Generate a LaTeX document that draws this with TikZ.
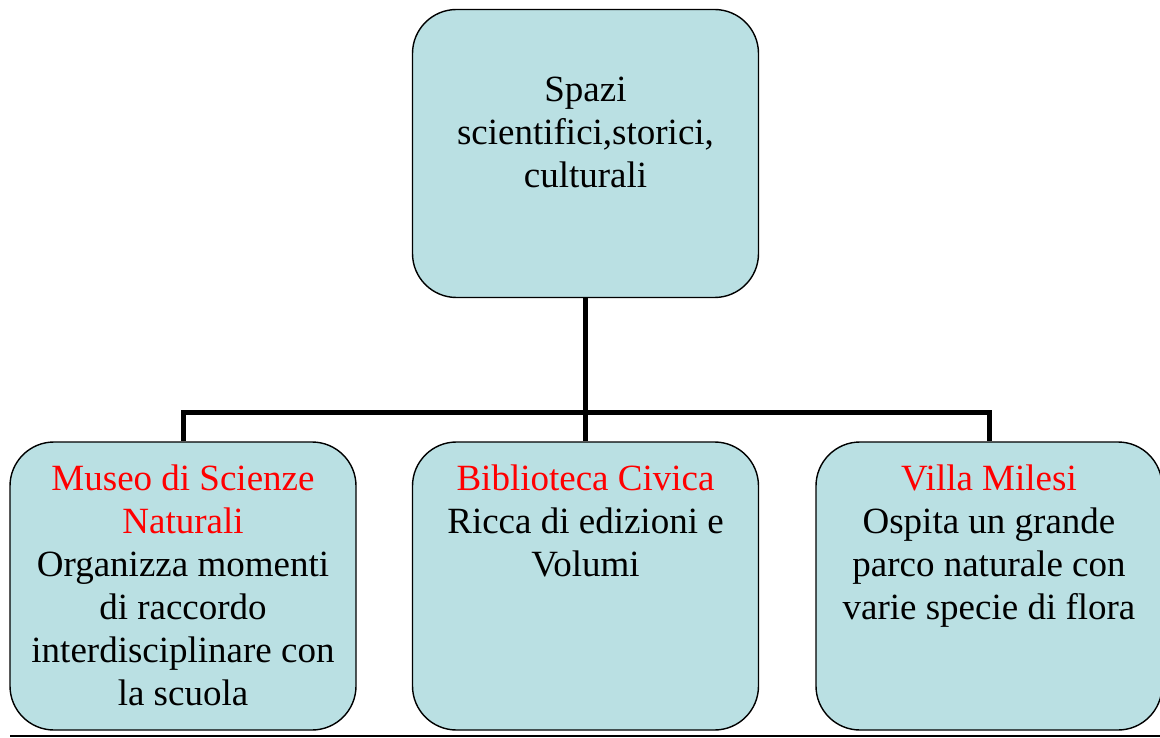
\documentclass[tikz,border=0pt]{standalone}
\usepackage{fontspec}
\setmainfont{Liberation Serif}
\usepackage{xcolor}
\usepackage{tikz}
\definecolor{spazicyan}{RGB}{186, 224, 227}
\definecolor{spazired}{RGB}{255, 0, 0}
\usetikzlibrary{positioning,calc}
% text block of a box: first baseline #1 below the top edge
\newcommand{\boxtext}[2]{\parbox[c][288pt][t]{334pt}{\centering\fontsize{37}{43}\selectfont\rule{0pt}{#1}#2}}

\begin{document}
\begin{tikzpicture}[x=1pt, y=-1pt]
    % Define styles
    \tikzstyle{place} = [rectangle, rounded corners=44pt, draw=black, line width=1.4pt,
                         fill=spazicyan, inner sep=0pt, minimum width=346pt, minimum height=288pt]
    \tikzstyle{branch} = [line width=5pt, draw=black]
    \tikzstyle{title} = [color=spazired]

    \useasboundingbox (0,0) rectangle (1160,738);

    % Nodes
    \node[place] (spazi) at (585.5,153.5) {\boxtext{92pt}{Spazi\\ scientifici,storici,\\ culturali}};
    \node[place] (museo) at (183,586) {\boxtext{48pt}{\textcolor{spazired}{Museo di Scienze\\ Naturali}\\
        Organizza momenti\\ di raccordo\\ interdisciplinare con\\ la scuola}};
    \node[place] (biblioteca) at (585.5,586) {\boxtext{48pt}{\textcolor{spazired}{Biblioteca Civica}\\
        Ricca di edizioni e\\ Volumi}};
    \node[place] (villa) at (989,586) {\boxtext{48pt}{\textcolor{spazired}{Villa Milesi}\\
        Ospita un grande\\ parco naturale con\\ varie specie di flora}};
    \coordinate (bar) at (585.5,412);
    \coordinate (ruleL) at (10,736);
    \coordinate (ruleR) at (1160,736);

    % Connections
    \draw[branch] (spazi.south) -- (biblioteca.north);
    \draw[branch] (museo.north) |- (bar) -| (villa.north);

    % Bottom rule
    \draw[line width=2.2pt] (ruleL) -- (ruleR);
\end{tikzpicture}
\end{document}
